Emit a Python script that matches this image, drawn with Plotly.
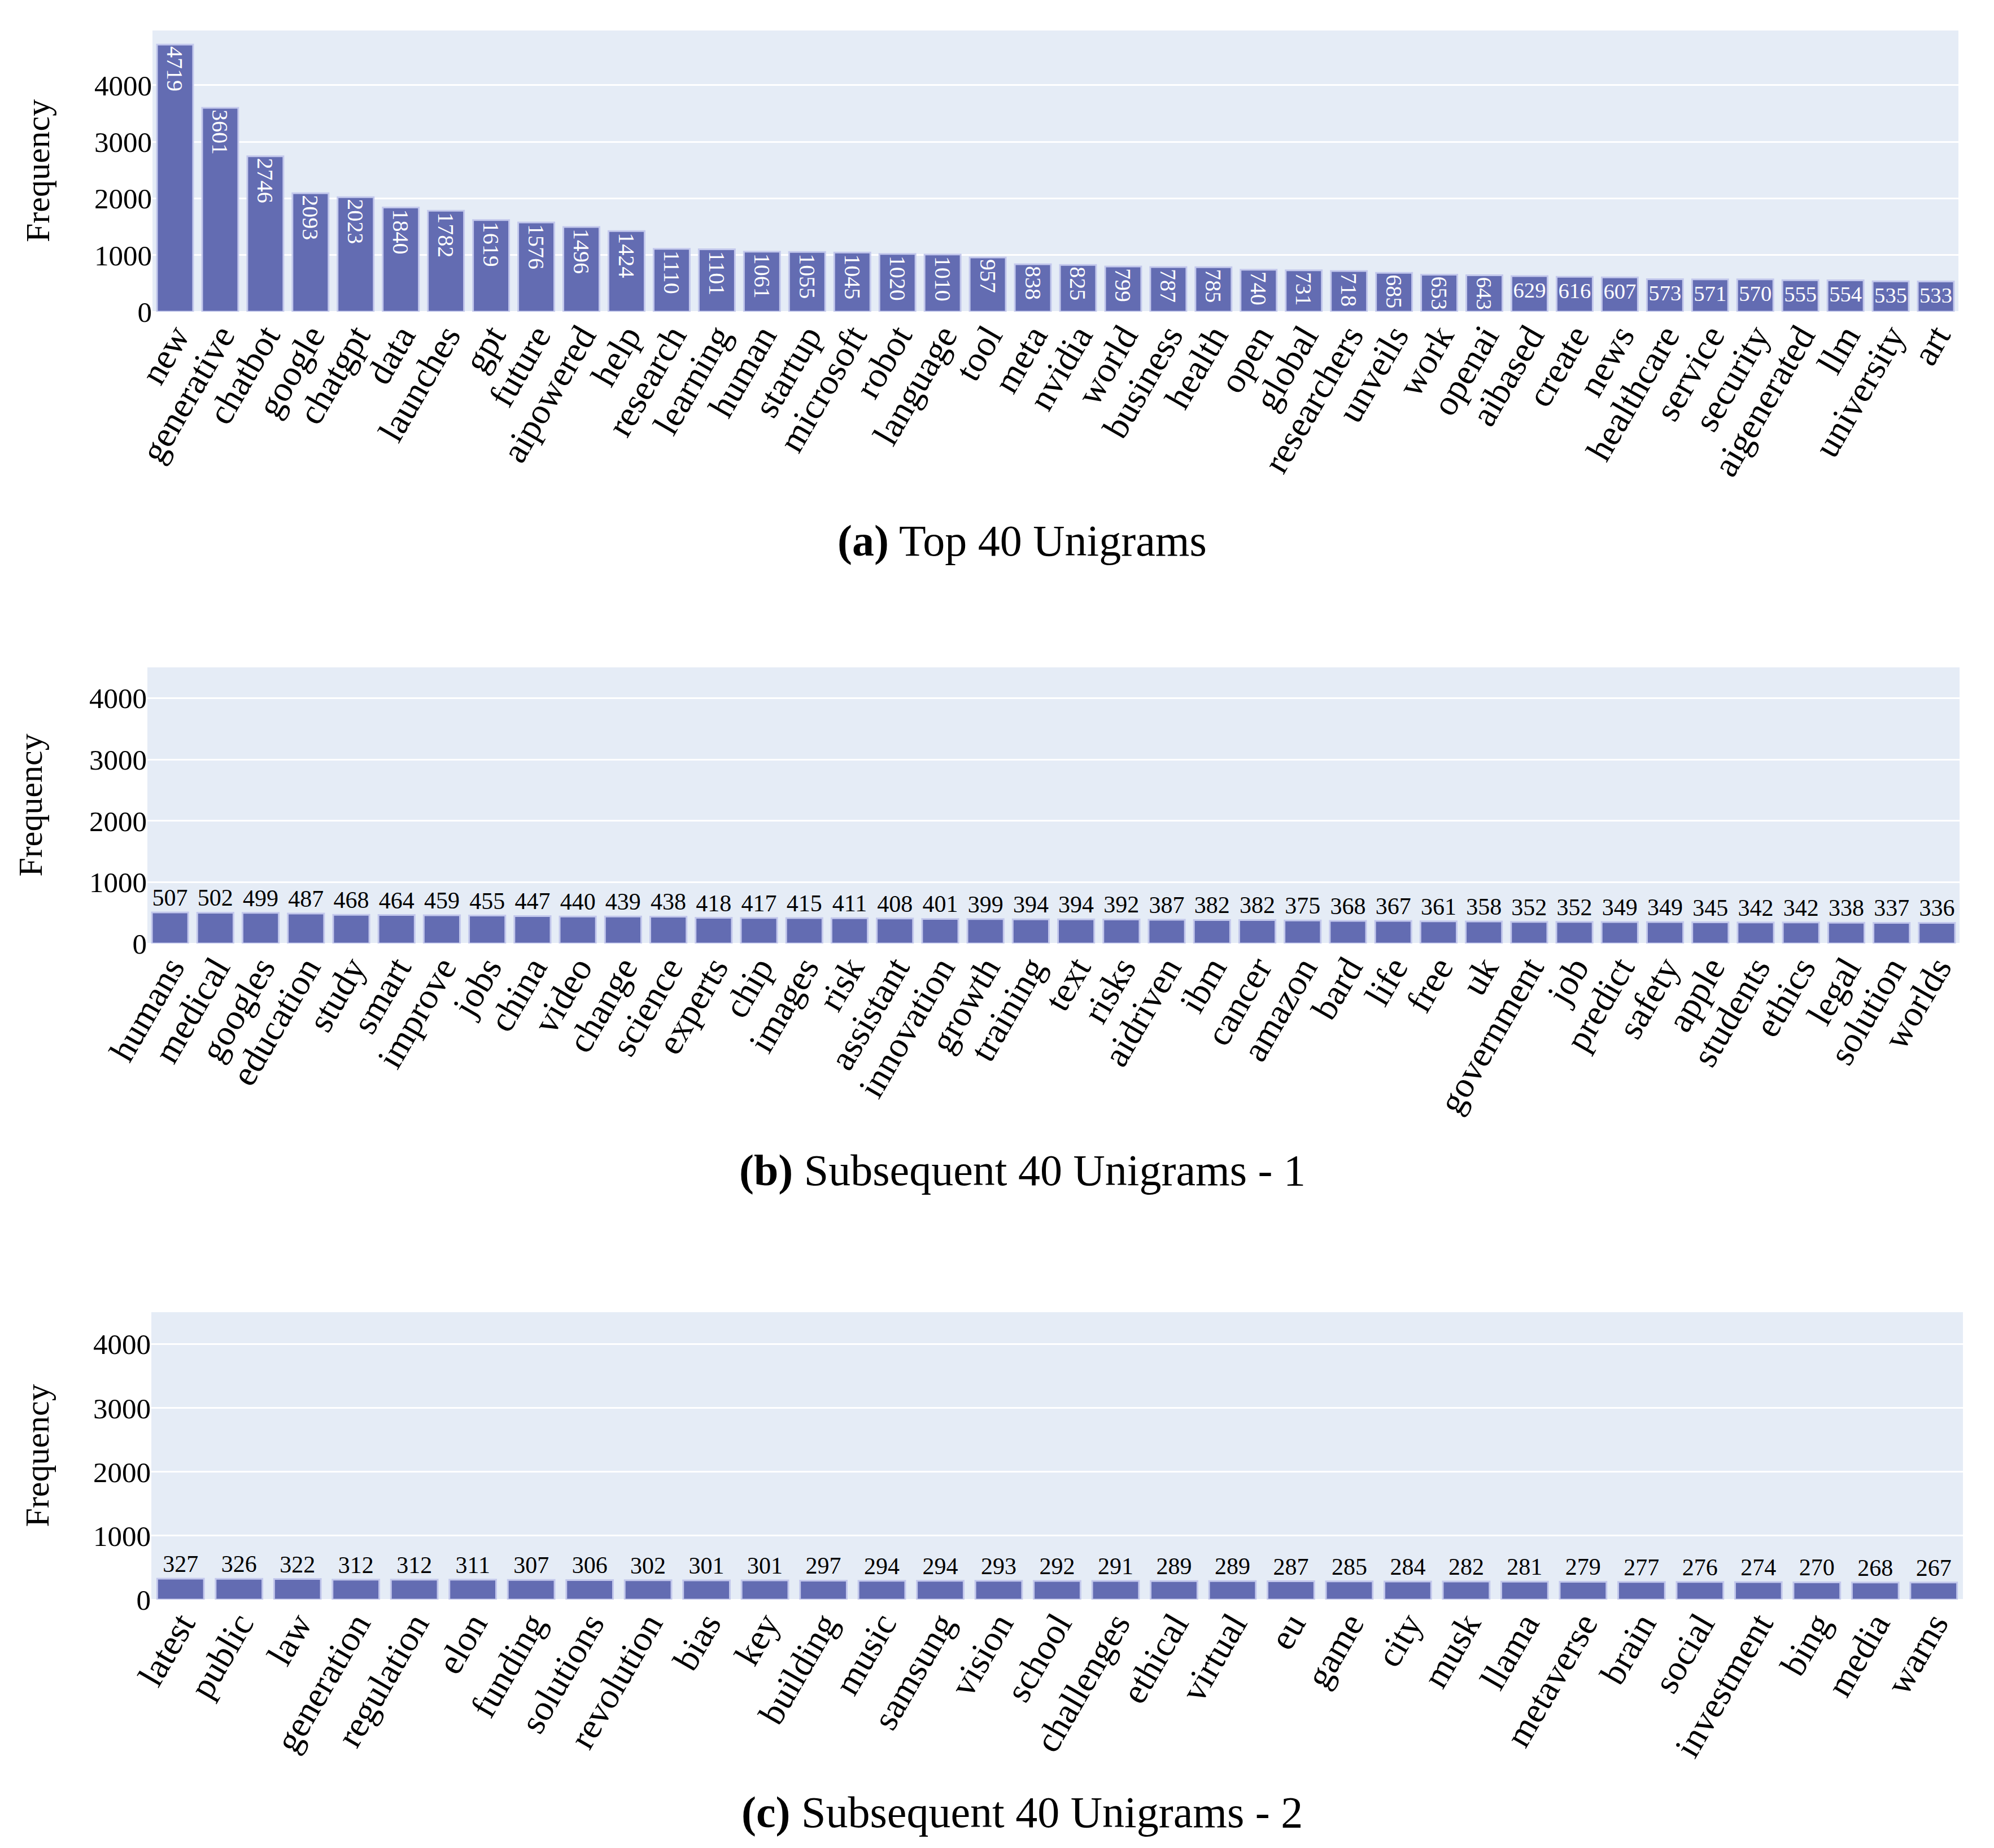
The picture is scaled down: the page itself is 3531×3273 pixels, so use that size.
import plotly.graph_objects as go

# (a) top 40 unigrams
top_words = ["new", "generative", "chatbot", "google", "chatgpt", "data", "launches", "gpt",
             "future", "aipowered", "help", "research", "learning", "human", "startup",
             "microsoft", "robot", "language", "tool", "meta", "nvidia", "world", "business",
             "health", "open", "global", "researchers", "unveils", "work", "openai", "aibased",
             "create", "news", "healthcare", "service", "security", "aigenerated", "llm",
             "university", "art"]
top_counts = [4719, 3601, 2746, 2093, 2023, 1840, 1782, 1619, 1576, 1496, 1424, 1110, 1101,
              1061, 1055, 1045, 1020, 1010, 957, 838, 825, 799, 787, 785, 740, 731, 718, 685,
              653, 643, 629, 616, 607, 573, 571, 570, 555, 554, 535, 533]

# (b) subsequent 40 unigrams - 1
mid_words = ["humans", "medical", "googles", "education", "study", "smart", "improve", "jobs",
             "china", "video", "change", "science", "experts", "chip", "images", "risk",
             "assistant", "innovation", "growth", "training", "text", "risks", "aidriven", "ibm",
             "cancer", "amazon", "bard", "life", "free", "uk", "government", "job", "predict",
             "safety", "apple", "students", "ethics", "legal", "solution", "worlds"]
mid_counts = [507, 502, 499, 487, 468, 464, 459, 455, 447, 440, 439, 438, 418, 417, 415, 411,
              408, 401, 399, 394, 394, 392, 387, 382, 382, 375, 368, 367, 361, 358, 352, 352,
              349, 349, 345, 342, 342, 338, 337, 336]

# (c) subsequent 40 unigrams - 2
low_words = ["latest", "public", "law", "generation", "regulation", "elon", "funding",
             "solutions", "revolution", "bias", "key", "building", "music", "samsung", "vision",
             "school", "challenges", "ethical", "virtual", "eu", "game", "city", "musk", "llama",
             "metaverse", "brain", "social", "investment", "bing", "media", "warns"]
low_counts = [327, 326, 322, 312, 312, 311, 307, 306, 302, 301, 301, 297, 294, 294, 293, 292,
              291, 289, 289, 287, 285, 284, 282, 281, 279, 277, 276, 274, 270, 268, 267]

captions = ["<b>(a)</b> Top 40 Unigrams",
            "<b>(b)</b> Subsequent 40 Unigrams - 1",
            "<b>(c)</b> Subsequent 40 Unigrams - 2"]

W, H = 3531, 3273
OFF = 8  # the page body adds an 8px margin on top and left
FONT = "Liberation Serif"
BAR_COLOR = "#636CB2"
BG = "#E5ECF6"

# pixel boxes of the three plot areas on screen (left, right, top, bottom)
boxes = [(270, 3468, 54, 552), (261, 3470, 1182, 1671), (268, 3476, 2324, 2833)]
caption_y = [957, 2072, 3209]
ytitle_x = [67, 53, 65]

panels = [(top_words, top_counts, "inside", None),
          (mid_words, mid_counts, "outside", [0, 4500]),
          (low_words, low_counts, "outside", [0, 4500])]


def px(x):
    return (x - OFF) / W


def py(y):
    return 1 - (y - OFF) / H


fig = go.Figure()
layout = dict(
    width=W, height=H,
    margin=dict(l=0, r=0, t=0, b=0),
    paper_bgcolor="white",
    plot_bgcolor=BG,
    showlegend=False,
    font=dict(family=FONT, color="black", size=40),
    annotations=[],
)

for i, (words, counts, tpos, yrange) in enumerate(panels):
    n = "" if i == 0 else str(i + 1)
    l, r, t, b = boxes[i]
    fig.add_trace(go.Bar(
        x=words, y=counts,
        text=[str(c) for c in counts],
        textposition=tpos,
        insidetextfont=dict(family=FONT, size=40, color="white"),
        outsidetextfont=dict(family=FONT, size=42, color="black"),
        marker=dict(color=BAR_COLOR, line=dict(color="#C3C8EC", width=3)),
        xaxis="x" + n, yaxis="y" + n,
        cliponaxis=False,
    ))
    layout["xaxis" + n] = dict(
        domain=[px(l), px(r)], anchor="y" + n, automargin=False,
        tickangle=-60, tickfont=dict(family=FONT, size=64, color="black"),
        ticklabelstandoff=-8,
        showgrid=False, showline=False, zeroline=False,
    )
    ya = dict(
        domain=[py(b), py(t)], anchor="x" + n, automargin=False,
        tickfont=dict(family=FONT, size=51, color="black"),
        showgrid=True, gridcolor="white", gridwidth=3,
        zeroline=True, zerolinecolor="white", zerolinewidth=3,
        dtick=1000, showline=False,
    )
    if yrange:
        ya["range"] = yrange
    layout["yaxis" + n] = ya

    layout["annotations"].append(dict(
        text="Frequency", textangle=-90, showarrow=False,
        xref="paper", yref="paper",
        x=px(ytitle_x[i]), y=py((t + b) / 2),
        xanchor="center", yanchor="middle",
        font=dict(family=FONT, size=60, color="black"),
    ))
    layout["annotations"].append(dict(
        text=captions[i], showarrow=False,
        xref="paper", yref="paper",
        x=px(1810), y=py(caption_y[i]),
        xanchor="center", yanchor="middle",
        font=dict(family=FONT, size=78, color="black"),
    ))

fig.update_layout(**layout)
fig.write_html("out.html")
